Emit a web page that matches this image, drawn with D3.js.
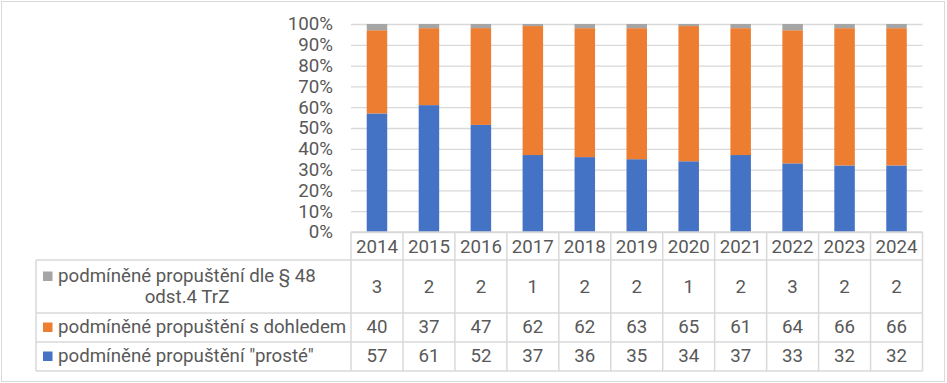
<!DOCTYPE html>
<html><head><meta charset="utf-8">
<script src="https://cdn.jsdelivr.net/npm/d3@7"></script>
<style>
body{margin:0;background:#fff;}
text{font-family:Roboto, "Noto Sans", sans-serif;fill:#595959;}
</style></head>
<body><svg id="c" width="947" height="383"></svg>
<script>
const years = ["2014","2015","2016","2017","2018","2019","2020","2021","2022","2023","2024"];
const prosteValues = [57,61,52,37,36,35,34,37,33,32,32];
const dohledValues = [40,37,47,62,62,63,65,61,64,66,66];
const par48Values = [3,2,2,1,2,2,1,2,3,2,2];
const seriesNames = ["podmíněné propuštění \"prosté\"","podmíněné propuštění s dohledem","podmíněné propuštění dle § 48 odst.4 TrZ"];
const seriesColors = ["#4472C4","#ED7D31","#A5A5A5"];
const yTicks = [0,10,20,30,40,50,60,70,80,90,100];

(function(){
const FS = 18.7;
const svg = d3.select("#c");
const W = 947, H = 383;
svg.append("rect").attr("x",1.5).attr("y",1.5).attr("width",W-4).attr("height",H-3)
  .attr("fill","#fff").attr("stroke","#D9D9D9").attr("stroke-width",1);

const pLeft = 351, pRight = 922.5, pTop = 24, pBottom = 232;
const x = d3.scaleBand().domain(years).range([pLeft,pRight]).padding(0);
const y = d3.scaleLinear().domain([0,100]).range([pBottom,pTop]);

const yAxis = d3.axisLeft(y).tickValues(yTicks).tickFormat(d=>d+"%").tickSize(-(pRight-pLeft)).tickPadding(18);
const ga = svg.append("g").attr("transform",`translate(${pLeft},0)`).call(yAxis);
ga.select(".domain").remove();
ga.selectAll(".tick line").attr("stroke","#D9D9D9").attr("stroke-width",1.3);
ga.selectAll(".tick text").attr("font-size",FS).attr("fill","#595959").attr("x",-18);

const data = years.map((yr,i)=>({year:yr, s0:prosteValues[i], s1:dohledValues[i], s2:par48Values[i]}));
const stack = d3.stack().keys(["s0","s1","s2"]).offset(d3.stackOffsetExpand);
const layers = stack(data);
const barW = 20.5;
svg.append("g").selectAll("g").data(layers).join("g")
  .attr("fill",(d,i)=>seriesColors[i])
  .selectAll("rect").data(d=>d).join("rect")
  .attr("x",d=>x(d.data.year)+x.bandwidth()/2-barW/2)
  .attr("width",barW)
  .attr("y",d=>y(d[1]*100))
  .attr("height",d=>y(d[0]*100)-y(d[1]*100));

const lineC = "#D9D9D9", lw = 1.5;
const tableLeft = 36;
const rowEdges = [pBottom, 260, 313, 342, 371];
const tg = svg.append("g");
tg.append("line").attr("x1",pLeft).attr("x2",pRight).attr("y1",rowEdges[0]).attr("y2",rowEdges[0]).attr("stroke",lineC).attr("stroke-width",lw);
for (let k=1;k<rowEdges.length;k++){
  tg.append("line").attr("x1",tableLeft).attr("x2",pRight).attr("y1",rowEdges[k]).attr("y2",rowEdges[k]).attr("stroke",lineC).attr("stroke-width",lw);
}
const colEdges = years.map(yr=>x(yr)).concat([pRight]);
colEdges.forEach(cx=>{
  tg.append("line").attr("x1",cx).attr("x2",cx).attr("y1",rowEdges[0]).attr("y2",rowEdges[4]).attr("stroke",lineC).attr("stroke-width",lw);
});
tg.append("line").attr("x1",tableLeft).attr("x2",tableLeft).attr("y1",rowEdges[1]).attr("y2",rowEdges[4]).attr("stroke",lineC).attr("stroke-width",lw);

tg.selectAll("text.yr").data(years).join("text").attr("class","yr")
  .attr("x",d=>x(d)+x.bandwidth()/2).attr("y",253).attr("text-anchor","middle").attr("font-size",FS).text(d=>d);

const rows = [
  {vals:par48Values, base:293},
  {vals:dohledValues, base:332.5},
  {vals:prosteValues, base:361.5}
];
rows.forEach(r=>{
  tg.append("g").selectAll("text").data(r.vals).join("text")
    .attr("x",(d,i)=>x(years[i])+x.bandwidth()/2).attr("y",r.base)
    .attr("text-anchor","middle").attr("font-size",FS).text(d=>d);
});
const mk = 9.5;
tg.append("rect").attr("x",43).attr("y",271.5).attr("width",mk).attr("height",mk).attr("fill",seriesColors[2]);
tg.append("text").attr("x",58).attr("y",282).attr("font-size",FS).text("podmíněné propuštění dle § 48");
tg.append("text").attr("x",187).attr("y",303).attr("text-anchor","middle").attr("font-size",FS).text("odst.4 TrZ");
tg.append("rect").attr("x",43).attr("y",322.5).attr("width",mk).attr("height",mk).attr("fill",seriesColors[1]);
tg.append("text").attr("x",58).attr("y",rows[1].base).attr("font-size",FS).text(seriesNames[1]);
tg.append("rect").attr("x",43).attr("y",351.5).attr("width",mk).attr("height",mk).attr("fill",seriesColors[0]);
tg.append("text").attr("x",58).attr("y",rows[2].base).attr("font-size",FS).text(seriesNames[0]);
})();
</script></body></html>
